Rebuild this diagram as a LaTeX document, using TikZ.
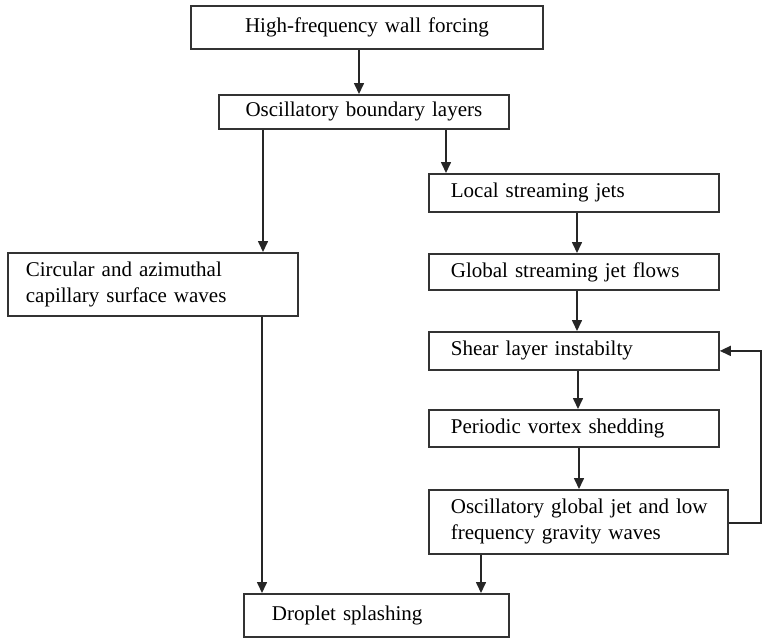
\documentclass[tikz,border=0pt]{standalone}
\usepackage{fontspec}
\setmainfont{Liberation Serif}
\usetikzlibrary{arrows.meta}
\begin{document}
\begin{tikzpicture}[x=1pt,y=-1pt,
  box/.style={draw=black!80, line width=1.8pt, rectangle, anchor=north west,
    font=\fontsize{21}{26}\selectfont, inner ysep=0pt, inner xsep=0pt},
  lbox/.style={box, align=left},
  cbox/.style={box, align=center},
  arr/.style={draw=black!85, line width=1.6pt, -{Triangle[length=11pt,width=10pt]}},
  ln/.style={draw=black!85, line width=1.6pt}]
\useasboundingbox (0,0) rectangle (763,638);
\node[cbox, text width=352pt, minimum height=43pt] (b1) at (190,5) {High-frequency wall forcing};
\node[cbox, text width=290pt, minimum height=34pt] (b2) at (218,94) {Oscillatory boundary layers};
\node[lbox, text width=290pt, minimum height=38pt] (b3) at (428,173) {\hspace*{22pt}Local streaming jets};
\node[lbox, text width=290pt, minimum height=63pt] (b4) at (7,252) {\hspace*{18pt}Circular and azimuthal\\\hspace*{18pt}capillary surface waves};
\node[lbox, text width=290pt, minimum height=36pt] (b5) at (428,253) {\hspace*{22pt}Global streaming jet flows};
\node[lbox, text width=290pt, minimum height=38pt] (b6) at (428,331) {\hspace*{22pt}Shear layer instabilty};
\node[lbox, text width=290pt, minimum height=37pt] (b7) at (428,409) {\hspace*{22pt}Periodic vortex shedding};
\node[lbox, text width=299pt, minimum height=64pt] (b8) at (428,489) {\hspace*{22pt}Oscillatory global jet and low\\\hspace*{22pt}frequency gravity waves};
\node[lbox, text width=265pt, minimum height=43pt] (b9) at (243,593) {\hspace*{28pt}Droplet splashing};
\coordinate (fb) at (761,0);
% connectors
\draw[arr] (359,0 |- b1.south) -- (359,0 |- b2.north);
\draw[arr] (263,0 |- b2.south) -- (263,0 |- b4.north);
\draw[arr] (446,0 |- b2.south) -- (446,0 |- b3.north);
\draw[arr] (577,0 |- b3.south) -- (577,0 |- b5.north);
\draw[arr] (577,0 |- b5.south) -- (577,0 |- b6.north);
\draw[arr] (578,0 |- b6.south) -- (578,0 |- b7.north);
\draw[arr] (579,0 |- b7.south) -- (579,0 |- b8.north);
\draw[arr] (262,0 |- b4.south) -- (262,0 |- b9.north);
\draw[arr] (481,0 |- b8.south) -- (481,0 |- b9.north);
\draw[arr] (b8.east |- 0,523) -- (fb |- 0,523) -- (fb |- b6.east) -- (b6.east);
\end{tikzpicture}
\end{document}
